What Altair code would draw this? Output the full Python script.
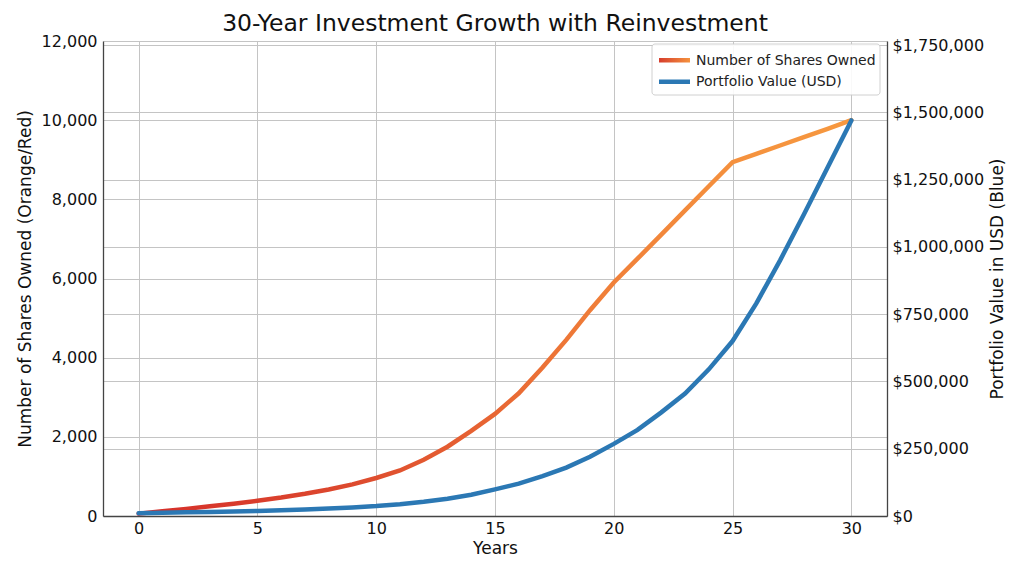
import altair as alt
import pandas as pd

years = list(range(31))
shares = [60, 120, 180, 245, 310, 385, 465, 560, 670, 800,
          960, 1150, 1420, 1750, 2150, 2580, 3100, 3750, 4450, 5200,
          5900, 6500, 7110, 7720, 8330, 8940, 9150, 9360, 9570, 9780,
          10000]
portfolio = [10000, 12000, 13500, 15000, 16500, 18500, 21000, 24000, 27500, 32000,
             37000, 44000, 53000, 64000, 79000, 99000, 120000, 148000, 180000, 220000,
             268000, 320000, 385000, 455000, 545000, 650000, 790000, 950000, 1120000, 1295000,
             1470000]

x_ticks = [0, 5, 10, 15, 20, 25, 30]
left_ticks = [0, 2000, 4000, 6000, 8000, 10000, 12000]
right_ticks = [0, 250000, 500000, 750000, 1000000, 1250000, 1500000, 1750000]
legend_labels = ["Number of Shares Owned", "Portfolio Value (USD)"]

FONT = "DejaVu Sans"
BLUE = "#2b78b4"

df = pd.DataFrame({"Year": years, "Shares": shares, "Value": portfolio})

line_grad = alt.Gradient(
    gradient="linear",
    stops=[
        alt.GradientStop(color="#d52e2a", offset=0),
        alt.GradientStop(color="#dd4a2e", offset=0.3),
        alt.GradientStop(color="#e86633", offset=0.5),
        alt.GradientStop(color="#f07f39", offset=0.65),
        alt.GradientStop(color="#f5923e", offset=0.85),
        alt.GradientStop(color="#f6983f", offset=1),
    ],
    x1=0, x2=1, y1=0, y2=0,
)
swatch_grad = alt.Gradient(
    gradient="linear",
    stops=[
        alt.GradientStop(color="#d63d2c", offset=0),
        alt.GradientStop(color="#f5923e", offset=1),
    ],
    x1=0, x2=1, y1=0, y2=0,
)

axis_style = dict(labelFont=FONT, titleFont=FONT, labelFontSize=16, titleFontSize=17,
                  titleFontWeight="normal", labelColor="#111", titleColor="#111",
                  gridColor="#c4c4c4", gridWidth=1, domainColor="#444", domainWidth=1.3,
                  ticks=False, grid=True)

x_enc = alt.X(
    "Year:Q",
    scale=alt.Scale(domain=[-1.5, 31.5], nice=False, zero=False),
    axis=alt.Axis(values=x_ticks, title="Years", format="d",
                  labelPadding=4, titlePadding=4, **axis_style),
)

base = alt.Chart(df)

shares_line = base.mark_line(stroke=line_grad, strokeWidth=4.5, strokeCap="round").encode(
    x=x_enc,
    y=alt.Y(
        "Shares:Q",
        scale=alt.Scale(domain=[0, 12000], nice=False),
        axis=alt.Axis(orient="left", values=left_ticks, format=",d",
                      title="Number of Shares Owned (Orange/Red)",
                      labelPadding=6, titlePadding=7, **axis_style),
    ),
)

value_line = base.mark_line(color=BLUE, strokeWidth=4.5, strokeCap="round").encode(
    x=x_enc,
    y=alt.Y(
        "Value:Q",
        scale=alt.Scale(domain=[0, 1765000], nice=False),
        axis=alt.Axis(orient="right", values=right_ticks, format="$,d",
                      title="Portfolio Value in USD (Blue)",
                      labelPadding=5, titlePadding=23, titleAngle=270, **axis_style),
    ),
)

one = alt.Data(values=[{}])

legend_box = alt.Chart(one).mark_rect(
    fill="white", stroke="#cccccc", strokeWidth=1, cornerRadius=3, opacity=0.9
).encode(x=alt.value(549), x2=alt.value(777), y=alt.value(3), y2=alt.value(54))

sw1 = alt.Chart(one).mark_rect(fill=swatch_grad).encode(
    x=alt.value(556), x2=alt.value(587), y=alt.value(17), y2=alt.value(21.5)
)
sw2 = alt.Chart(one).mark_rect(fill=BLUE).encode(
    x=alt.value(556), x2=alt.value(587), y=alt.value(38.5), y2=alt.value(43)
)
t1 = alt.Chart(one).mark_text(
    text=legend_labels[0], align="left", baseline="middle", font=FONT, fontSize=14, color="#222"
).encode(x=alt.value(593), y=alt.value(19.5))
t2 = alt.Chart(one).mark_text(
    text=legend_labels[1], align="left", baseline="middle", font=FONT, fontSize=14, color="#222"
).encode(x=alt.value(593), y=alt.value(41))

chart = alt.layer(shares_line, value_line, legend_box, sw1, sw2, t1, t2).resolve_scale(
    y="independent"
).properties(
    width=784,
    height=475,
    padding={"left": 95, "top": 33, "right": 125, "bottom": 48},
    autosize=alt.AutoSizeParams(type="none"),
    background="white",
    title=alt.Title("30-Year Investment Growth with Reinvestment", fontSize=23.5,
                    font=FONT, fontWeight="normal", color="#111", offset=-2),
).configure_view(stroke=None)

chart.save("out.html", embed_options={"renderer": "svg", "actions": False})
